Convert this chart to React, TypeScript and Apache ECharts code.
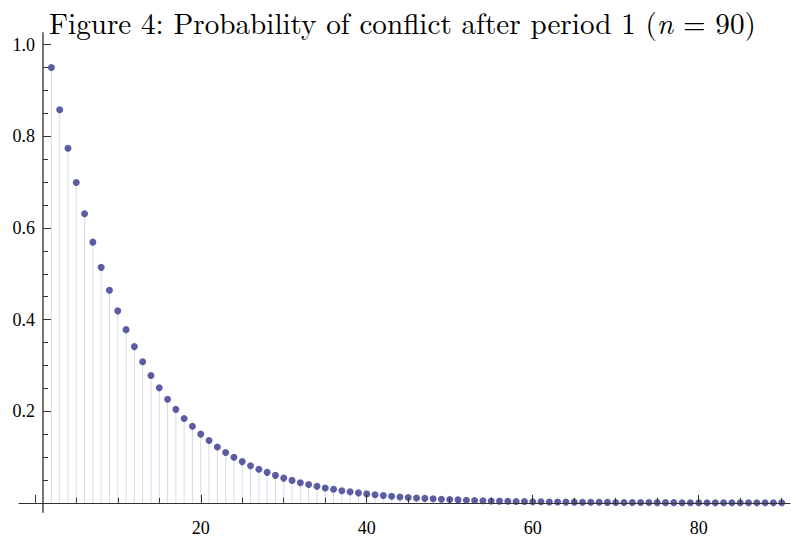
import React, { useEffect, useRef } from "react";
import * as echarts from "echarts";

const xValues: number[] = [
  2, 3, 4, 5, 6, 7, 8, 9, 10, 11, 12, 13, 14, 15, 16, 17, 18, 19, 20, 21,
  22, 23, 24, 25, 26, 27, 28, 29, 30, 31, 32, 33, 34, 35, 36, 37, 38, 39, 40, 41,
  42, 43, 44, 45, 46, 47, 48, 49, 50, 51, 52, 53, 54, 55, 56, 57, 58, 59, 60, 61,
  62, 63, 64, 65, 66, 67, 68, 69, 70, 71, 72, 73, 74, 75, 76, 77, 78, 79, 80, 81,
  82, 83, 84, 85, 86, 87, 88, 89, 90,
];

const probValues: number[] = [
  0.95, 0.858, 0.774, 0.699, 0.631, 0.569, 0.514, 0.464, 0.419, 0.378,
  0.341, 0.308, 0.278, 0.251, 0.226, 0.204, 0.184, 0.167, 0.15, 0.136,
  0.122, 0.11, 0.0995, 0.09, 0.081, 0.0735, 0.0665, 0.06, 0.054, 0.049,
  0.044, 0.04, 0.036, 0.0325, 0.0295, 0.0265, 0.024, 0.0217, 0.0195, 0.0176,
  0.0159, 0.0143, 0.0129, 0.0117, 0.0105, 0.0097, 0.0088, 0.0079, 0.0071, 0.0064,
  0.0058, 0.0052, 0.0047, 0.0042, 0.0038, 0.0034, 0.0031, 0.0028, 0.0025, 0.0023,
  0.002, 0.0018, 0.0016, 0.0015, 0.0013, 0.0012, 0.0011, 0.001, 0.0009, 0.0008,
  0.0007, 0.00065, 0.0006, 0.0005, 0.00045, 0.0004, 0.00037, 0.00033, 0.0003, 0.00027,
  0.00024, 0.00022, 0.0002, 0.00018, 0.00016, 0.00014, 0.00013, 0.00011, 0.0001,
];

const xMajorTicks: number[] = [0, 20, 40, 60, 80];
const xTickLabels: number[] = [20, 40, 60, 80];
const xMinorTicks: number[] = [5, 10, 15, 25, 30, 35, 45, 50, 55, 65, 70, 75, 85, 90];
const yMajorTicks: number[] = [0.2, 0.4, 0.6, 0.8, 1.0];
const yMinorTicks: number[] = [
  0.05, 0.1, 0.15, 0.25, 0.3, 0.35, 0.45, 0.5, 0.55, 0.65, 0.7, 0.75, 0.85, 0.9, 0.95,
];

const titlePlain = "Figure 4: Probability of conflict after period 1 (n = 90)";
const titleRich = "Figure 4: Probability of conflict after period 1 ({i|n} = 90)";

const TICK_FONT = "Liberation Serif";
const TITLE_FONT = "Latin Modern Roman";

function measure(font: string, text: string): number {
  const c = document.createElement("canvas").getContext("2d");
  if (!c) return 0;
  c.font = font;
  return c.measureText(text).width;
}

export default function App() {
  const ref = useRef<HTMLDivElement>(null);
  useEffect(() => {
    if (!ref.current) return;
    const chart = echarts.init(ref.current, null, { renderer: "svg" });
    const points = xValues.map((x, i) => [x, probValues[i]]);
    const xMin = -1.9;
    const xMax = 91;
    const yMin = -0.02;
    const yMax = 1.0255;

    const targetW = 707;
    const w26 = measure(`26px "${TITLE_FONT}"`, titlePlain) || 700;
    let tSize = (26 * targetW) / w26;
    tSize = Math.max(22, Math.min(30, tSize));
    const tW = (w26 * tSize) / 26;
    const tLeft = Math.round(402 - tW / 2);

    chart.setOption({
      animation: false,
      backgroundColor: "#ffffff",
      textStyle: { fontFamily: TICK_FONT },
      title: {
        text: titleRich,
        left: tLeft,
        top: 0,
        padding: [7, 0, 0, 0],
        textStyle: {
          fontFamily: TITLE_FONT,
          fontSize: tSize,
          fontWeight: "normal",
          color: "#000",
          rich: {
            i: { fontFamily: TITLE_FONT, fontSize: tSize, fontStyle: "italic", color: "#000" },
          },
        },
      },
      grid: { left: 19, right: 1, top: 33, bottom: 21 },
      xAxis: [
        {
          type: "value",
          min: xMin,
          max: xMax,
          position: "bottom",
          z: 5,
          axisLine: { show: true, onZero: true, onZeroAxisIndex: 0, lineStyle: { color: "#333", width: 1 } },
          axisTick: { show: true, inside: true, length: 8, customValues: xMajorTicks, lineStyle: { color: "#333", width: 1 } },
          axisLabel: {
            show: true,
            customValues: xTickLabels,
            margin: 7,
            fontFamily: TICK_FONT,
            fontSize: 18,
            color: "#000",
          },
          splitLine: { show: false },
        },
        {
          type: "value",
          min: xMin,
          max: xMax,
          position: "bottom",
          z: 5,
          axisLine: { show: false, onZero: true, onZeroAxisIndex: 0 },
          axisTick: { show: true, inside: true, length: 5, customValues: xMinorTicks, lineStyle: { color: "#333", width: 1 } },
          axisLabel: { show: false },
          splitLine: { show: false },
        },
      ],
      yAxis: [
        {
          type: "value",
          min: yMin,
          max: yMax,
          position: "left",
          offset: -24,
          z: 5,
          axisLine: { show: true, onZero: false, lineStyle: { color: "#777", width: 2 } },
          axisTick: { show: true, inside: true, length: 8, customValues: yMajorTicks, lineStyle: { color: "#333", width: 1 } },
          axisLabel: {
            show: true,
            customValues: yMajorTicks,
            margin: 8,
            fontFamily: TICK_FONT,
            fontSize: 18,
            color: "#000",
            formatter: (v: number) => v.toFixed(1),
          },
          splitLine: { show: false },
        },
        {
          type: "value",
          min: yMin,
          max: yMax,
          position: "left",
          offset: -24,
          z: 5,
          axisLine: { show: false, onZero: false },
          axisTick: { show: true, inside: true, length: 5, customValues: yMinorTicks, lineStyle: { color: "#333", width: 1 } },
          axisLabel: { show: false },
          splitLine: { show: false },
        },
      ],
      series: [
        {
          type: "bar",
          xAxisIndex: 0,
          yAxisIndex: 0,
          data: points,
          barWidth: 1,
          itemStyle: { color: "#d8d8eb" },
          silent: true,
          z: 1,
        },
        {
          type: "scatter",
          xAxisIndex: 0,
          yAxisIndex: 0,
          data: points,
          symbol: "circle",
          symbolSize: 7,
          itemStyle: { color: "#35358e" },
          z: 3,
        },
      ],
    });
    return () => chart.dispose();
  }, []);
  return (
    <div
      ref={ref}
      style={{ position: "absolute", left: 0, top: 0, width: 791, height: 537, background: "#fff" }}
    />
  );
}
